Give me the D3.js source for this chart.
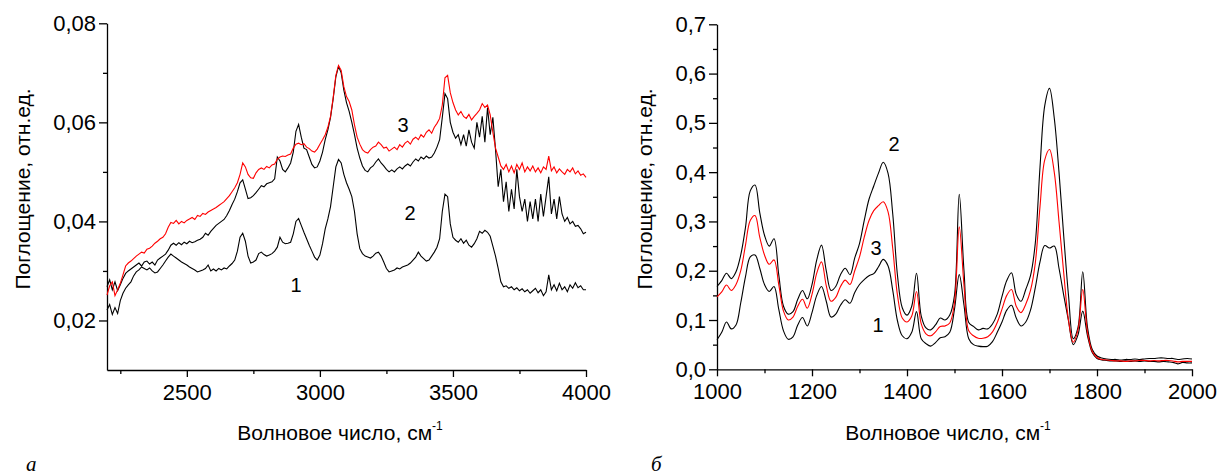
<!DOCTYPE html>
<html lang="ru">
<head>
<meta charset="UTF-8">
<title>ИК-спектры поглощения</title>
<script src="https://d3js.org/d3.v7.min.js"></script>
<style>
    body { margin: 0; background: #fff; }
    svg { display: block; font-family: "Liberation Sans", Arial, sans-serif; }
    .axis path, .axis line { stroke: #000; stroke-width: 1.3; }
    .axis text { font-size: 22px; fill: #000; font-family: "Liberation Sans", Arial, sans-serif; }
    .spec { fill: none; stroke-width: 1.1; }
</style>
</head>
<body>
<svg id="chart" width="1218" height="475"></svg>
<script>
// ---- панель а: 2200–4000 см-1, шаг 10 ----
const leftStart = 2200, leftStep = 10;
const leftCurve1 = [
  0.0221, 0.0232, 0.0212, 0.0226, 0.0214, 0.0240, 0.0255, 0.0265, 0.0272, 0.0278,
  0.0290, 0.0298, 0.0302, 0.0308, 0.0305, 0.0302, 0.0306, 0.0300, 0.0296, 0.0298,
  0.0305, 0.0312, 0.0320, 0.0328, 0.0334, 0.0330, 0.0326, 0.0322, 0.0318, 0.0315,
  0.0312, 0.0308, 0.0305, 0.0302, 0.0298, 0.0300, 0.0302, 0.0305, 0.0312, 0.0300,
  0.0304, 0.0300, 0.0305, 0.0302, 0.0306, 0.0304, 0.0310, 0.0315, 0.0322, 0.0340,
  0.0368, 0.0376, 0.0360, 0.0330, 0.0316, 0.0318, 0.0322, 0.0335, 0.0338, 0.0333,
  0.0330, 0.0332, 0.0335, 0.0340, 0.0348, 0.0368, 0.0358, 0.0355, 0.0356, 0.0358,
  0.0375, 0.0400, 0.0406, 0.0392, 0.0378, 0.0365, 0.0352, 0.0340, 0.0328, 0.0322,
  0.0332, 0.0355, 0.0385, 0.0405, 0.0430, 0.0470, 0.0510, 0.0525, 0.0518, 0.0495,
  0.0478, 0.0465, 0.0450, 0.0420, 0.0375, 0.0345, 0.0335, 0.0330, 0.0328, 0.0326,
  0.0330, 0.0336, 0.0338, 0.0330, 0.0318, 0.0305, 0.0298, 0.0300, 0.0302, 0.0306,
  0.0304, 0.0308, 0.0310, 0.0312, 0.0316, 0.0322, 0.0328, 0.0338, 0.0330, 0.0325,
  0.0320, 0.0322, 0.0330, 0.0338, 0.0348, 0.0365, 0.0420, 0.0455, 0.0450, 0.0395,
  0.0368, 0.0362, 0.0358, 0.0365, 0.0356, 0.0362, 0.0352, 0.0348, 0.0355, 0.0365,
  0.0380, 0.0376, 0.0382, 0.0378, 0.0370, 0.0350, 0.0330, 0.0305, 0.0278, 0.0268,
  0.0270, 0.0265, 0.0268, 0.0262, 0.0266, 0.0260, 0.0264, 0.0258, 0.0262, 0.0255,
  0.0260, 0.0265, 0.0256, 0.0262, 0.0250, 0.0258, 0.0292, 0.0262, 0.0272, 0.0260,
  0.0275, 0.0262, 0.0268, 0.0258, 0.0272, 0.0265, 0.0276, 0.0266, 0.0270, 0.0262,
  0.0262
];
const leftCurve2 = [
  0.0268, 0.0282, 0.0262, 0.0278, 0.0260, 0.0272, 0.0285, 0.0295, 0.0300, 0.0304,
  0.0308, 0.0312, 0.0316, 0.0310, 0.0318, 0.0320, 0.0314, 0.0318, 0.0312, 0.0322,
  0.0326, 0.0330, 0.0334, 0.0342, 0.0352, 0.0356, 0.0352, 0.0357, 0.0353, 0.0358,
  0.0355, 0.0360, 0.0357, 0.0359, 0.0362, 0.0364, 0.0368, 0.0376, 0.0372, 0.0380,
  0.0386, 0.0392, 0.0396, 0.0400, 0.0404, 0.0412, 0.0422, 0.0434, 0.0445, 0.0460,
  0.0478, 0.0484, 0.0465, 0.0446, 0.0448, 0.0452, 0.0458, 0.0465, 0.0472, 0.0470,
  0.0476, 0.0478, 0.0480, 0.0486, 0.0530, 0.0522, 0.0505, 0.0500, 0.0508, 0.0518,
  0.0540, 0.0582, 0.0596, 0.0570, 0.0548, 0.0545, 0.0530, 0.0515, 0.0508, 0.0510,
  0.0522, 0.0540, 0.0565, 0.0585, 0.0610, 0.0648, 0.0692, 0.0713, 0.0700, 0.0665,
  0.0640, 0.0622, 0.0600, 0.0575, 0.0548, 0.0528, 0.0512, 0.0503, 0.0500, 0.0508,
  0.0512, 0.0520, 0.0526, 0.0518, 0.0512, 0.0505, 0.0500, 0.0504, 0.0500, 0.0506,
  0.0510, 0.0506, 0.0512, 0.0516, 0.0512, 0.0520, 0.0526, 0.0522, 0.0530, 0.0526,
  0.0532, 0.0528, 0.0530, 0.0538, 0.0550, 0.0565, 0.0610, 0.0658, 0.0648, 0.0600,
  0.0580, 0.0568, 0.0575, 0.0555, 0.0575, 0.0552, 0.0585, 0.0560, 0.0548, 0.0600,
  0.0570, 0.0612, 0.0560, 0.0630, 0.0575, 0.0610, 0.0545, 0.0470, 0.0505, 0.0440,
  0.0480, 0.0420, 0.0465, 0.0425, 0.0505, 0.0450, 0.0420, 0.0445, 0.0400, 0.0440,
  0.0405, 0.0445, 0.0400, 0.0455, 0.0410, 0.0450, 0.0490, 0.0415, 0.0445, 0.0405,
  0.0450, 0.0415, 0.0400, 0.0408, 0.0395, 0.0400, 0.0390, 0.0392, 0.0385, 0.0375,
  0.0378
];
const leftCurve3 = [
  0.0251, 0.0270, 0.0278, 0.0250, 0.0262, 0.0275, 0.0292, 0.0310, 0.0316, 0.0320,
  0.0325, 0.0330, 0.0334, 0.0338, 0.0336, 0.0344, 0.0346, 0.0350, 0.0356, 0.0360,
  0.0365, 0.0368, 0.0375, 0.0388, 0.0398, 0.0396, 0.0402, 0.0395, 0.0400, 0.0397,
  0.0402, 0.0405, 0.0408, 0.0404, 0.0412, 0.0410, 0.0416, 0.0414, 0.0419, 0.0422,
  0.0425, 0.0428, 0.0432, 0.0436, 0.0440, 0.0446, 0.0452, 0.0460, 0.0468, 0.0478,
  0.0495, 0.0518, 0.0510, 0.0495, 0.0488, 0.0487, 0.0498, 0.0505, 0.0508, 0.0505,
  0.0511, 0.0508, 0.0514, 0.0516, 0.0526, 0.0530, 0.0532, 0.0531, 0.0534, 0.0536,
  0.0548, 0.0556, 0.0558, 0.0555, 0.0557, 0.0550, 0.0547, 0.0542, 0.0540, 0.0546,
  0.0556, 0.0565, 0.0575, 0.0590, 0.0612, 0.0650, 0.0695, 0.0715, 0.0705, 0.0672,
  0.0652, 0.0642, 0.0625, 0.0595, 0.0570, 0.0556, 0.0545, 0.0540, 0.0538, 0.0545,
  0.0550, 0.0552, 0.0560, 0.0555, 0.0548, 0.0550, 0.0542, 0.0546, 0.0550, 0.0545,
  0.0555, 0.0550, 0.0558, 0.0562, 0.0556, 0.0566, 0.0570, 0.0565, 0.0575, 0.0570,
  0.0580, 0.0585, 0.0578, 0.0590, 0.0598, 0.0608, 0.0635, 0.0690, 0.0695, 0.0660,
  0.0640, 0.0625, 0.0615, 0.0622, 0.0612, 0.0608, 0.0616, 0.0605, 0.0612, 0.0618,
  0.0625, 0.0638, 0.0630, 0.0635, 0.0615, 0.0580, 0.0548, 0.0530, 0.0512, 0.0505,
  0.0515, 0.0500, 0.0512, 0.0498, 0.0515, 0.0505, 0.0518, 0.0500, 0.0510, 0.0502,
  0.0512, 0.0500, 0.0508, 0.0498, 0.0510, 0.0505, 0.0532, 0.0502, 0.0510, 0.0498,
  0.0506, 0.0500, 0.0495, 0.0505, 0.0500, 0.0508, 0.0496, 0.0502, 0.0493, 0.0496,
  0.0489
];

// ---- панель б: 1000–2000 см-1, шаг 10 ----
const rightStart = 1000, rightStep = 10;
const rightCurve1 = [
  0.060, 0.075, 0.096, 0.082, 0.090, 0.135, 0.188, 0.228, 0.232, 0.205,
  0.172, 0.158, 0.168, 0.122, 0.078, 0.061, 0.066, 0.090, 0.105, 0.088,
  0.115, 0.150, 0.168, 0.138, 0.106, 0.112, 0.130, 0.141, 0.134, 0.156,
  0.172, 0.182, 0.190, 0.194, 0.208, 0.223, 0.210, 0.160, 0.098, 0.068,
  0.062, 0.075, 0.117, 0.062, 0.052, 0.047, 0.054, 0.064, 0.066, 0.075,
  0.122, 0.192, 0.130, 0.062, 0.050, 0.047, 0.046, 0.047, 0.056, 0.075,
  0.096, 0.120, 0.130, 0.104, 0.088, 0.096, 0.120, 0.165, 0.218, 0.251,
  0.246, 0.250, 0.205, 0.150, 0.098, 0.050, 0.070, 0.118, 0.068, 0.034,
  0.022, 0.019, 0.018, 0.017, 0.017, 0.016, 0.017, 0.016, 0.017, 0.016,
  0.017, 0.016, 0.016, 0.015, 0.016, 0.015, 0.014, 0.011, 0.014, 0.013,
  0.013
];
const rightCurve2 = [
  0.168, 0.180, 0.195, 0.184, 0.198, 0.232, 0.288, 0.362, 0.374, 0.318,
  0.272, 0.250, 0.265, 0.192, 0.128, 0.112, 0.117, 0.142, 0.160, 0.143,
  0.172, 0.222, 0.252, 0.200, 0.160, 0.168, 0.192, 0.205, 0.192, 0.226,
  0.255, 0.302, 0.345, 0.372, 0.398, 0.420, 0.398, 0.315, 0.190, 0.125,
  0.110, 0.128, 0.195, 0.108, 0.084, 0.080, 0.090, 0.104, 0.100, 0.110,
  0.150, 0.355, 0.200, 0.095, 0.087, 0.080, 0.083, 0.082, 0.092, 0.112,
  0.148, 0.180, 0.196, 0.152, 0.138, 0.162, 0.190, 0.255, 0.410, 0.535,
  0.570, 0.510, 0.400, 0.270, 0.150, 0.062, 0.085, 0.198, 0.085, 0.040,
  0.027, 0.023, 0.021, 0.020, 0.020, 0.019, 0.020, 0.020, 0.021, 0.020,
  0.021, 0.022, 0.022, 0.023, 0.023, 0.022, 0.022, 0.020, 0.021, 0.022,
  0.021
];
const rightCurve3 = [
  0.147, 0.157, 0.171, 0.160, 0.172, 0.200, 0.252, 0.302, 0.312, 0.268,
  0.232, 0.213, 0.222, 0.172, 0.118, 0.100, 0.106, 0.128, 0.142, 0.124,
  0.152, 0.195, 0.218, 0.170, 0.138, 0.146, 0.168, 0.181, 0.172, 0.200,
  0.228, 0.268, 0.302, 0.322, 0.332, 0.340, 0.320, 0.245, 0.150, 0.104,
  0.096, 0.108, 0.158, 0.092, 0.072, 0.068, 0.076, 0.087, 0.088, 0.094,
  0.135, 0.289, 0.170, 0.078, 0.068, 0.063, 0.063, 0.066, 0.076, 0.095,
  0.122, 0.150, 0.162, 0.128, 0.115, 0.132, 0.160, 0.215, 0.330, 0.425,
  0.446, 0.400, 0.300, 0.195, 0.100, 0.055, 0.080, 0.162, 0.075, 0.036,
  0.024, 0.020, 0.019, 0.018, 0.017, 0.017, 0.016, 0.017, 0.017, 0.018,
  0.018, 0.017, 0.018, 0.017, 0.018, 0.018, 0.017, 0.015, 0.016, 0.016,
  0.016
];

const leftXTicks = [2500, 3000, 3500, 4000];
const leftXMinor = [2250, 2750, 3250, 3750];
const leftYTicks = [0.02, 0.04, 0.06, 0.08];
const leftYMinor = [0.03, 0.05, 0.07];
const rightXTicks = [1000, 1200, 1400, 1600, 1800, 2000];
const rightXMinor = [1100, 1300, 1500, 1700, 1900];
const rightYTicks = [0, 0.1, 0.2, 0.3, 0.4, 0.5, 0.6, 0.7];
const rightYMinor = [0.05, 0.15, 0.25, 0.35, 0.45, 0.55, 0.65];

const svg = d3.select("#chart");
const comma = f => v => d3.format(f)(v).replace(".", ",");

function toPoints(arr, start, step) {
    return arr.map((v, i) => ({ w: start + i * step, v: v }));
}

function panel(opt) {
    const x = d3.scaleLinear().domain(opt.xDomain).range(opt.xRange);
    const y = d3.scaleLinear().domain(opt.yDomain).range(opt.yRange);
    const g = svg.append("g");

    // оси
    g.append("g").attr("class", "axis")
        .attr("transform", `translate(0,${opt.yRange[0]})`)
        .call(d3.axisBottom(x).tickValues(opt.xTicks).tickSize(7).tickSizeOuter(0)
            .tickPadding(4).tickFormat(d3.format("d")))
        .call(a => a.selectAll("text").attr("dy", "0.85em"));
    g.append("g").attr("class", "axis")
        .attr("transform", `translate(0,${opt.yRange[0]})`)
        .call(d3.axisBottom(x).tickValues(opt.xMinor).tickSize(4).tickFormat(""))
        .call(a => a.select(".domain").remove());
    g.append("g").attr("class", "axis")
        .attr("transform", `translate(${opt.xRange[0]},0)`)
        .call(d3.axisLeft(y).tickValues(opt.yTicks).tickSize(8).tickSizeOuter(0).tickPadding(3)
            .tickFormat(comma(opt.yFmt)));
    g.append("g").attr("class", "axis")
        .attr("transform", `translate(${opt.xRange[0]},0)`)
        .call(d3.axisLeft(y).tickValues(opt.yMinor).tickSize(4).tickFormat(""))
        .call(a => a.select(".domain").remove());

    // кривые
    const line = d3.line().x(d => x(d.w)).y(d => y(d.v)).curve(opt.curve);
    opt.series.forEach(s => {
        g.append("path").attr("class", "spec")
            .attr("stroke", s.color)
            .attr("d", line(toPoints(s.data, opt.start, opt.step)));
    });

    // номера кривых
    opt.labels.forEach(l => {
        g.append("text").attr("x", l.x).attr("y", l.y)
            .attr("text-anchor", "middle").attr("font-size", 20).text(l.t);
    });

    // подписи осей
    const xt = g.append("text")
        .attr("x", opt.xTitleX).attr("y", 440)
        .attr("text-anchor", "middle").attr("font-size", 21)
        .text("Волновое число, см");
    xt.append("tspan").attr("font-size", 12).attr("dy", -10).text("-1");

    g.append("text")
        .attr("transform", `translate(${opt.yTitleX},189) rotate(-90)`)
        .attr("text-anchor", "middle").attr("font-size", 21)
        .text("Поглощение, отн.ед.");

    g.append("text").attr("x", opt.letterX).attr("y", 471)
        .attr("font-family", "'Liberation Serif', 'Times New Roman', serif")
        .attr("font-style", "italic").attr("font-size", 21)
        .text(opt.letter);
}

panel({
    xDomain: [2200, 4000], xRange: [107, 586],
    yDomain: [0.01, 0.08], yRange: [370, 23.3],
    xTicks: leftXTicks, xMinor: leftXMinor,
    yTicks: leftYTicks, yMinor: leftYMinor, yFmt: ".2f",
    start: leftStart, step: leftStep, curve: d3.curveLinear,
    series: [
        { data: leftCurve1, color: "#000" },
        { data: leftCurve2, color: "#000" },
        { data: leftCurve3, color: "#ff0000" }
    ],
    labels: [
        { t: "3", x: 403, y: 132 },
        { t: "2", x: 410, y: 220 },
        { t: "1", x: 296, y: 292 }
    ],
    xTitleX: 340, yTitleX: 30, letterX: 26, letter: "а"
});

panel({
    xDomain: [1000, 2000], xRange: [717, 1192],
    yDomain: [0, 0.7], yRange: [369.3, 24.3],
    xTicks: rightXTicks, xMinor: rightXMinor,
    yTicks: rightYTicks, yMinor: rightYMinor, yFmt: ".1f",
    start: rightStart, step: rightStep, curve: d3.curveCatmullRom.alpha(0.5),
    series: [
        { data: rightCurve1, color: "#000" },
        { data: rightCurve2, color: "#000" },
        { data: rightCurve3, color: "#ff0000" }
    ],
    labels: [
        { t: "2", x: 894, y: 151 },
        { t: "3", x: 876, y: 255 },
        { t: "1", x: 878, y: 332 }
    ],
    xTitleX: 948, yTitleX: 652, letterX: 651, letter: "б"
});
</script>
</body>
</html>
